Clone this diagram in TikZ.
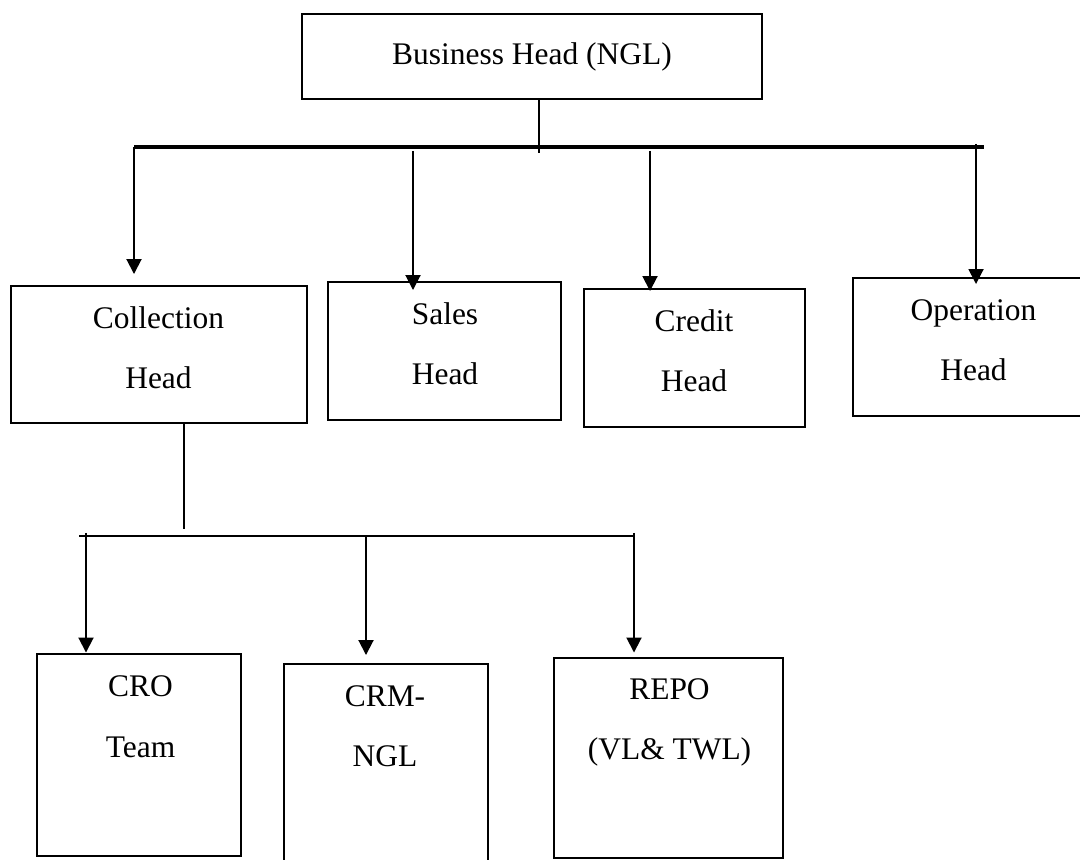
\documentclass[tikz,border=0pt]{standalone}
\usepackage{fontspec}
\setmainfont{Liberation Serif}
\usetikzlibrary{arrows.meta}

\begin{document}
\begin{tikzpicture}[
  box/.style={draw,line width=1.1pt,inner sep=0pt},
  txt/.style={font=\fontsize{17.9}{34.7}\selectfont,align=center,anchor=base,inner sep=0pt},
  link/.style={line width=1.1pt},
  arr/.style={link,-{Triangle[width=0.3cm,length=0.3cm]}}]
\useasboundingbox (0,0) rectangle (21.6,17.18);
\clip (0,0) rectangle (21.6,17.18);
% business head
\node[box,minimum width=9.2cm,minimum height=1.7cm] (biz) at (10.64,16.05) {};
\node[txt] (bizT) at (10.64,15.88) {Business Head (NGL)};
\coordinate (bizEnd) at (10.78,14.12);
\draw[link] (biz.south -| bizEnd) -- (bizEnd);
% top bar
\coordinate (barL) at (2.68,14.24);
\coordinate (barR) at (19.68,14.24);
\draw[line width=1.9pt] (barL) -- (barR);
% heads (text node base = last line)
\node[box,minimum width=5.92cm,minimum height=2.74cm] (coll) at (3.18,10.09) {};
\node[txt] (collT) at (3.17,9.40) {Collection\\Head};
\node[box,minimum width=4.66cm,minimum height=2.76cm] (sales) at (8.89,10.16) {};
\node[txt] (salesT) at (8.90,9.48) {Sales\\Head};
\node[box,minimum width=4.42cm,minimum height=2.76cm] (cred) at (13.89,10.02) {};
\node[txt] (credT) at (13.88,9.34) {Credit\\Head};
\node[box,minimum width=4.82cm,minimum height=2.76cm] (oper) at (19.47,10.24) {};
\node[txt] (operT) at (19.47,9.56) {Operation\\Head};
% arrows from the bar
\coordinate (a1) at (2.68,14.24);
\coordinate (a2) at (8.26,14.16);
\coordinate (a3) at (13.00,14.16);
\coordinate (a4) at (19.52,14.30);
\draw[arr] (a1) -- ([yshift=0.22cm]a1 |- coll.north);
\draw[arr] (a2) -- ([yshift=-0.18cm]a2 |- sales.north);
\draw[arr] (a3) -- ([yshift=-0.06cm]a3 |- cred.north);
\draw[arr] (a4) -- ([yshift=-0.14cm]a4 |- oper.north);
% collection teams
\coordinate (collEnd) at (3.68,6.60);
\draw[link] (coll.south -| collEnd) -- (collEnd);
\coordinate (lowL) at (1.58,6.46);
\coordinate (lowR) at (12.68,6.46);
\draw[link] (lowL) -- (lowR);
\node[box,minimum width=4.08cm,minimum height=4.04cm] (cro) at (2.78,2.08) {};
\node[txt] (croT) at (2.81,2.04) {CRO\\Team};
\node[box,minimum width=4.08cm,minimum height=4.4cm] (crm) at (7.72,1.70) {};
\node[txt] (crmT) at (7.70,1.84) {CRM-\\NGL};
\node[box,minimum width=4.58cm,minimum height=4.0cm] (repo) at (13.37,2.02) {};
\node[txt] (repoT) at (13.39,1.98) {REPO\\(VL\& TWL)};
\coordinate (b1) at (1.72,6.52);
\coordinate (b2) at (7.32,6.46);
\coordinate (b3) at (12.68,6.52);
\draw[arr] (b1) -- ([yshift=0.01cm]b1 |- cro.north);
\draw[arr] (b2) -- ([yshift=0.16cm]b2 |- crm.north);
\draw[arr] (b3) -- ([yshift=0.09cm]b3 |- repo.north);
\end{tikzpicture}
\end{document}
